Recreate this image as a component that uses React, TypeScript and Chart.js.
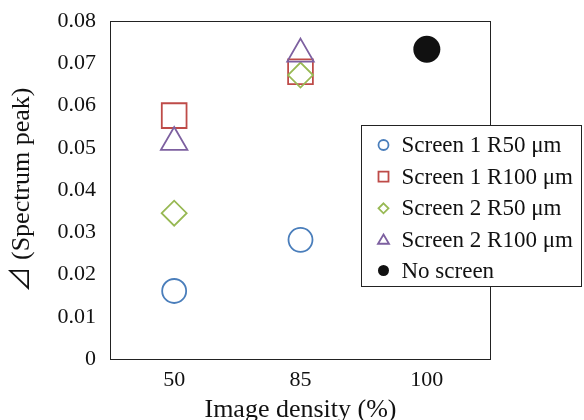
import React, { useEffect, useRef } from 'react';
import { Chart, registerables } from 'chart.js';

Chart.register(...registerables);

// ---- data ----
const categories = ['50', '85', '100'];
const screen1R50 = [0.0161, 0.0282, null];
const screen1R100 = [0.0576, 0.068, null];
const screen2R50 = [0.0345, 0.0672, null];
const screen2R100 = [0.0513, 0.0722, null];
const noScreen = [null, null, 0.0733];
const seriesNames = [
  'Screen 1 R50 μm',
  'Screen 1 R100 μm',
  'Screen 2 R50 μm',
  'Screen 2 R100 μm',
  'No screen',
];
const yMin = 0;
const yMax = 0.08;
const yStep = 0.01;
const xTitle = 'Image density (%)';
const yTitle = '⊿ (Spectrum peak)';

const FONT = "'Liberation Serif', 'Times New Roman', serif";
const TITLE_FONT = "'Liberation Serif', 'Noto Sans CJK JP', serif";
const TEXT = '#111';

function drawMarker(ctx: CanvasRenderingContext2D, style: string, x: number, y: number, r: number, color: string, filled: boolean) {
  ctx.beginPath();
  if (style === 'circle') {
    ctx.arc(x, y, r, 0, Math.PI * 2);
  } else if (style === 'rect') {
    ctx.rect(x - r, y - r, 2 * r, 2 * r);
  } else if (style === 'rectRot') {
    ctx.moveTo(x, y - r);
    ctx.lineTo(x + r, y);
    ctx.lineTo(x, y + r);
    ctx.lineTo(x - r, y);
    ctx.closePath();
  } else if (style === 'triangle') {
    const h = r * 1.0;
    ctx.moveTo(x, y - h);
    ctx.lineTo(x + r * 1.1, y + h * 0.85);
    ctx.lineTo(x - r * 1.1, y + h * 0.85);
    ctx.closePath();
  }
  if (filled) {
    ctx.fillStyle = color;
    ctx.fill();
  } else {
    ctx.strokeStyle = color;
    ctx.lineWidth = 1.8;
    ctx.stroke();
  }
}

const framePlugin = {
  id: 'frame',
  beforeDatasetsDraw(chart: any) {
    const { ctx, chartArea } = chart;
    ctx.save();
    ctx.strokeStyle = '#222';
    ctx.lineWidth = 1;
    ctx.strokeRect(
      Math.round(chartArea.left) - 0.5,
      Math.round(chartArea.top) + 0.5,
      Math.round(chartArea.right - chartArea.left) + 1,
      Math.round(chartArea.bottom - chartArea.top)
    );
    ctx.restore();
  },
};

const boxLegendPlugin = {
  id: 'boxLegend',
  afterDraw(chart: any) {
    const { ctx } = chart;
    const x0 = 361.5;
    const y0 = 125.5;
    const w = 220;
    const h = 161;
    ctx.save();
    ctx.fillStyle = '#fff';
    ctx.fillRect(x0, y0, w, h);
    ctx.strokeStyle = '#222';
    ctx.lineWidth = 1;
    ctx.strokeRect(x0, y0, w, h);
    ctx.font = `23px ${FONT}`;
    ctx.textBaseline = 'middle';
    ctx.textAlign = 'left';
    const rowY = [145, 176.7, 208.3, 239.5, 270.5];
    chart.data.datasets.forEach((ds: any, i: number) => {
      const y = rowY[i];
      const filled = ds.pointStyle === 'circle' && ds.pointBackgroundColor !== 'rgba(0,0,0,0)';
      drawMarker(ctx, ds.pointStyle, 383.5, y, ds.pointStyle === 'circle' ? (filled ? 5.5 : 5) : 5, ds.borderColor, filled);
      ctx.fillStyle = TEXT;
      ctx.fillText(ds.label, 401.5, y + 1);
    });
    ctx.restore();
  },
};

export default function App() {
  const canvasRef = useRef<HTMLCanvasElement | null>(null);

  useEffect(() => {
    if (!canvasRef.current) return;
    const mk = (label: string, data: (number | null)[], color: string, style: string, radius: number, filled: boolean, order: number) => ({
      label,
      data,
      borderColor: color,
      backgroundColor: filled ? color : 'rgba(0,0,0,0)',
      pointBackgroundColor: filled ? color : 'rgba(0,0,0,0)',
      pointBorderColor: color,
      pointBorderWidth: filled ? 0 : 1.8,
      pointStyle: style,
      pointRadius: radius,
      pointHoverRadius: radius,
      showLine: false,
      order,
    });
    const chart = new Chart(canvasRef.current, {
      type: 'line',
      data: {
        labels: categories,
        datasets: [
          mk(seriesNames[0], screen1R50, '#4A7EBB', 'circle', 12, false, 5),
          mk(seriesNames[1], screen1R100, '#BE4B48', 'rect', 17.5, false, 4),
          mk(seriesNames[2], screen2R50, '#98B954', 'rectRot', 12.5, false, 3),
          mk(seriesNames[3], screen2R100, '#7D60A0', 'triangle', 15.3, false, 2),
          mk(seriesNames[4], noScreen, '#111111', 'circle', 13.5, true, 1),
        ] as any,
      },
      options: {
        animation: false,
        responsive: false,
        devicePixelRatio: 1,
        layout: { padding: { left: 0, top: 21, right: 94, bottom: 0 } },
        plugins: {
          legend: { display: false },
          tooltip: { enabled: false },
        },
        scales: {
          x: {
            type: 'category',
            offset: true,
            grid: { display: false, drawTicks: false },
            border: { display: false },
            ticks: {
              color: TEXT,
              font: { family: FONT, size: 22 },
              padding: 8,
              maxRotation: 0,
            },
            title: {
              display: true,
              text: xTitle,
              color: TEXT,
              font: { family: FONT, size: 26, lineHeight: 1 },
              padding: { top: 0, bottom: -3 },
            },
            afterFit(scale: any) {
              scale.height = 61;
              scale.paddingLeft = 0;
              scale.paddingRight = 0;
            },
          },
          y: {
            min: yMin,
            max: yMax,
            grid: { display: false, drawTicks: false },
            border: { display: false },
            ticks: {
              stepSize: yStep,
              color: TEXT,
              font: { family: FONT, size: 22 },
              padding: 15,
              callback: (v: any) => (Number(v) === 0 ? '0' : Number(v).toFixed(2)),
            },
            title: {
              display: true,
              text: yTitle,
              color: TEXT,
              font: { family: TITLE_FONT, size: 26, lineHeight: 1 },
              padding: { top: 9, bottom: 0 },
            },
            afterFit(scale: any) {
              scale.width = 111;
              scale.paddingTop = 0;
              scale.paddingBottom = 0;
            },
          },
        },
      } as any,
      plugins: [framePlugin, boxLegendPlugin],
    });
    return () => chart.destroy();
  }, []);

  return (
    <div style={{ position: 'absolute', left: 0, top: 0, width: 584, height: 420, background: '#fff' }}>
      <canvas ref={canvasRef} width={584} height={420} style={{ display: 'block' }} />
    </div>
  );
}
